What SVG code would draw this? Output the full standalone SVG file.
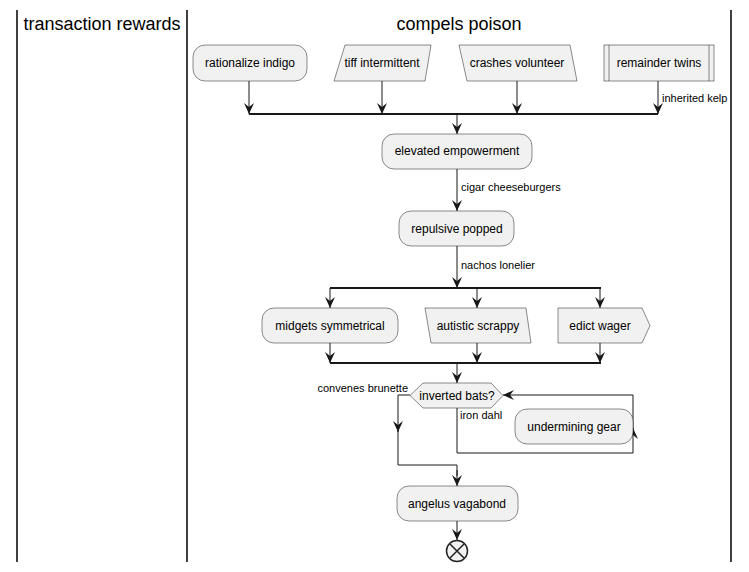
<svg xmlns="http://www.w3.org/2000/svg" width="749" height="572" viewBox="0 0 749 572">
<style>
.lane{stroke:#000;stroke-width:1.5;fill:none}
.hd{font-family:"Liberation Sans",Arial,sans-serif;font-size:18px;fill:#000;text-anchor:middle}
.nd{fill:#F1F1F1;stroke:#181818;stroke-width:0.5}
.t{font-family:"Liberation Sans",Arial,sans-serif;font-size:12px;fill:#000;text-anchor:middle}
.lb{font-family:"Liberation Sans",Arial,sans-serif;font-size:11px;fill:#000}
.e{stroke:#181818;stroke-width:1;fill:none}
.ea{stroke:#181818;stroke-width:1;fill:none;marker-end:url(#ah)}
.bar{stroke:#181818;stroke-width:2;fill:none}
</style>
<defs>
<marker id="ah" viewBox="0 0 11 10" refX="11" refY="5" markerWidth="11" markerHeight="10" orient="auto" markerUnits="userSpaceOnUse">
<path d="M0,0 L11,5 L0,10 L4,5 Z" fill="#181818"/>
</marker>
</defs>
<g id="lanes">
<line class="lane" x1="17" y1="10" x2="17" y2="562"/>
<line class="lane" x1="187" y1="10" x2="187" y2="562"/>
<line class="lane" x1="731" y1="10" x2="731" y2="562"/>
<text class="hd" x="102" y="30">transaction rewards</text>
<text class="hd" x="459" y="30">compels poison</text>
</g>
<g id="connectors">
<line class="ea" x1="249" y1="81" x2="249" y2="114"/>
<line class="ea" x1="382" y1="81" x2="382" y2="114"/>
<line class="ea" x1="517" y1="81" x2="517" y2="114"/>
<line class="ea" x1="658" y1="81" x2="658" y2="114"/>
<text class="lb" x="662" y="102">inherited kelp</text>
<line class="bar" x1="249" y1="114" x2="658" y2="114"/>
<line class="ea" x1="457" y1="114" x2="457" y2="134"/>
<line class="ea" x1="457" y1="169" x2="457" y2="211"/>
<text class="lb" x="461" y="191">cigar cheeseburgers</text>
<line class="ea" x1="457" y1="246" x2="457" y2="288"/>
<text class="lb" x="461" y="269">nachos lonelier</text>
<line class="bar" x1="330" y1="288" x2="601" y2="288"/>
<line class="ea" x1="330" y1="288" x2="330" y2="308"/>
<line class="ea" x1="477" y1="288" x2="477" y2="308"/>
<line class="ea" x1="600" y1="288" x2="600" y2="308"/>
<line class="ea" x1="330" y1="343" x2="330" y2="363"/>
<line class="ea" x1="477" y1="343" x2="477" y2="363"/>
<line class="ea" x1="600" y1="343" x2="600" y2="363"/>
<line class="bar" x1="330" y1="363" x2="601" y2="363"/>
<line class="ea" x1="457" y1="363" x2="457" y2="383"/>
<path class="ea" d="M410,395 H398 V432"/>
<path class="e" d="M398,430 V465 H457 V476"/>
<line class="ea" x1="457" y1="470" x2="457" y2="486"/>
<text class="lb" x="408" y="392" text-anchor="end">convenes brunette</text>
<path class="ea" d="M457,408 V453 H633 V428"/>
<path class="ea" d="M633,430 V395 H503"/>
<text class="lb" x="460" y="419">iron dahl</text>
<line class="ea" x1="457" y1="521" x2="457" y2="540"/>
</g>
<g id="n1"><rect class="nd" x="193" y="45" width="114" height="36" rx="12"/><text class="t" x="250" y="67">rationalize indigo</text></g>
<g id="n2"><polygon class="nd" points="345,45 431,45 425,81 334,81"/><text class="t" x="382" y="67">tiff intermittent</text></g>
<g id="n3"><polygon class="nd" points="459,45 570,45 577,81 467,81"/><text class="t" x="517" y="67">crashes volunteer</text></g>
<g id="n4"><rect class="nd" x="604" y="45" width="110" height="36"/><line class="nd" x1="609" y1="45" x2="609" y2="81"/><line class="nd" x1="709" y1="45" x2="709" y2="81"/><text class="t" x="659" y="67">remainder twins</text></g>
<g id="n5"><rect class="nd" x="382" y="134" width="150" height="35" rx="12"/><text class="t" x="457" y="155">elevated empowerment</text></g>
<g id="n6"><rect class="nd" x="399" y="211" width="115" height="35" rx="12"/><text class="t" x="457" y="233">repulsive popped</text></g>
<g id="n7"><rect class="nd" x="262" y="308" width="136" height="35" rx="12"/><text class="t" x="330" y="330">midgets symmetrical</text></g>
<g id="n8"><polygon class="nd" points="425,308 526,308 531,343 431,343"/><text class="t" x="478" y="330">autistic scrappy</text></g>
<g id="n9"><polygon class="nd" points="558,308 642,308 650,325.5 642,343 558,343"/><text class="t" x="600" y="330">edict wager</text></g>
<g id="n10"><polygon class="nd" points="410,395.5 423,383 491,383 503,395.5 491,408 423,408"/><text class="t" x="457" y="400">inverted bats?</text></g>
<g id="n11"><rect class="nd" x="515" y="409" width="118" height="35" rx="12"/><text class="t" x="574" y="431">undermining gear</text></g>
<g id="n12"><rect class="nd" x="397" y="486" width="121" height="35" rx="12"/><text class="t" x="457" y="508">angelus vagabond</text></g>
<g id="end"><circle cx="457" cy="551" r="10.5" fill="#F1F1F1" stroke="#222" stroke-width="1.5"/><path d="M450,544 L464,558 M464,544 L450,558" stroke="#222" stroke-width="1.5"/></g>
</svg>
